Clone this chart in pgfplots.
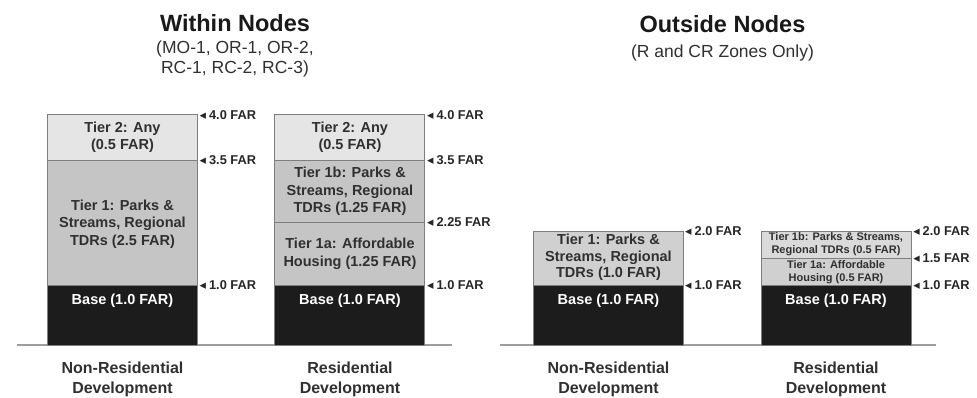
\documentclass[border=0pt]{standalone}
\usepackage{fontspec}
\setmainfont{Liberation Sans}
\newfontfamily\symfont{DejaVu Sans}
\usepackage{pgfplots}
\pgfplotsset{compat=1.18}

\definecolor{baseblk}{HTML}{1C1C1C}
\definecolor{tierone}{HTML}{C5C5C5}
\definecolor{tieronelt}{HTML}{D0D0D0}
\definecolor{tieronebr}{HTML}{DADADA}
\definecolor{tiertwo}{HTML}{E5E5E5}
\definecolor{edge}{HTML}{7E7E7E}
\definecolor{txt}{HTML}{303030}

% bar segment heights are kept as drawn (schematic, px above baseline);
% the FAR values are the labels
\pgfplotsset{
  farpanel/.style={
    x=227.5pt, y=1pt,
    ybar stacked, bar width=150pt,
    ymin=0, ymax=240,
    axis x line=bottom, axis y line=none,
    x axis line style={-, draw=black!38, line width=1.4pt},
    xtick={0,1}, ytick=\empty, major tick length=0pt,
    xticklabels={{Non-Residential\\Development},{Residential\\Development}},
    xticklabel style={align=center, anchor=north, inner sep=0pt, yshift=-17pt,
      font=\bfseries\fontsize{16}{20}\selectfont, text=txt},
    clip=false,
    every axis plot/.append style={draw=edge, line width=1pt},
  },
}
\tikzset{
  seglbl/.style={align=center, text=txt, font=\bfseries\fontsize{14.5}{17.5}\selectfont},
  segsm/.style={align=center, text=txt, font=\bfseries\fontsize{11}{13}\selectfont},
  baselbl/.style={text=white, font=\bfseries\fontsize{14.5}{17.5}\selectfont},
  farlbl/.style={anchor=west, inner sep=0pt, xshift=2pt, text=black!85,
    font=\bfseries\fontsize{12.8}{14}\selectfont},
}
\newcommand{\far}[1]{{\symfont ◂}\hspace{3pt}#1 FAR}

\begin{document}
\begin{tikzpicture}
\path[use as bounding box] (0,0) rectangle (977pt,-398pt);

% ---- Within Nodes ----
\begin{axis}[farpanel, at={(17pt,-345pt)}, anchor=south west,
    xmin=-0.4637, xmax=1.4484]
  \addplot[fill=baseblk] coordinates {(0,60) (1,60)};
  \addplot[fill=tierone] coordinates {(0,125) (1,63)};
  \addplot[fill=tierone] coordinates {(0,0) (1,62)};
  \addplot[fill=tiertwo] coordinates {(0,45) (1,45)};

  \coordinate (wt) at (axis cs:0.4945,321.5);
  \coordinate (ws) at (axis cs:0.4945,286);
  \coordinate (w0a) at (axis cs:0,44);
  \coordinate (w0b) at (axis cs:0,121);
  \coordinate (w0c) at (axis cs:0,207.5);
  \coordinate (w1a) at (axis cs:1,44);
  \coordinate (w1b) at (axis cs:1,91);
  \coordinate (w1c) at (axis cs:1,153.5);
  \coordinate (w1d) at (axis cs:1,207.5);
  \coordinate (wf1) at (axis cs:0.3297,230);
  \coordinate (wf2) at (axis cs:0.3297,185);
  \coordinate (wf3) at (axis cs:0.3297,60);
  \coordinate (wf4) at (axis cs:1.3297,230);
  \coordinate (wf5) at (axis cs:1.3297,185);
  \coordinate (wf6) at (axis cs:1.3297,123);
  \coordinate (wf7) at (axis cs:1.3297,60);
\end{axis}

% ---- Outside Nodes ----
\begin{axis}[farpanel, at={(500pt,-345pt)}, anchor=south west,
    xmin=-0.4769, xmax=1.4396]
  \addplot[fill=baseblk] coordinates {(0,60) (1,60)};
  \addplot[fill=tieronelt] coordinates {(0,54) (1,27)};
  \addplot[fill=tieronebr] coordinates {(0,0) (1,27)};

  \coordinate (ot) at (axis cs:0.501,321);
  \coordinate (os) at (axis cs:0.501,292.5);
  \coordinate (o0a) at (axis cs:0,44);
  \coordinate (o0b) at (axis cs:0,87.5);
  \coordinate (o1a) at (axis cs:1,44);
  \coordinate (o1b) at (axis cs:1,73);
  \coordinate (o1c) at (axis cs:1,100.5);
  \coordinate (of1) at (axis cs:0.3275,114);
  \coordinate (of2) at (axis cs:0.3275,60);
  \coordinate (of3) at (axis cs:1.33,114);
  \coordinate (of4) at (axis cs:1.33,87);
  \coordinate (of5) at (axis cs:1.33,60);
\end{axis}

% titles and labels
\node[font=\bfseries\fontsize{23.5}{26}\selectfont, text=black!90] at (wt) {Within Nodes};
\node[align=center, text=txt, font=\fontsize{17.5}{20}\selectfont] at (ws)
  {(MO-1, OR-1, OR-2,\\RC-1, RC-2, RC-3)};
\node[baselbl] at (w0a) {Base (1.0 FAR)};
\node[seglbl] at (w0b) {Tier 1: Parks \&\\Streams, Regional\\TDRs (2.5 FAR)};
\node[seglbl] at (w0c) {Tier 2: Any\\(0.5 FAR)};
\node[baselbl] at (w1a) {Base (1.0 FAR)};
\node[seglbl] at (w1b) {Tier 1a: Affordable\\Housing (1.25 FAR)};
\node[seglbl] at (w1c) {Tier 1b: Parks \&\\Streams, Regional\\TDRs (1.25 FAR)};
\node[seglbl] at (w1d) {Tier 2: Any\\(0.5 FAR)};
\node[farlbl] at (wf1) {\far{4.0}};
\node[farlbl] at (wf2) {\far{3.5}};
\node[farlbl] at (wf3) {\far{1.0}};
\node[farlbl] at (wf4) {\far{4.0}};
\node[farlbl] at (wf5) {\far{3.5}};
\node[farlbl] at (wf6) {\far{2.25}};
\node[farlbl] at (wf7) {\far{1.0}};

\node[font=\bfseries\fontsize{23.5}{26}\selectfont, text=black!90] at (ot) {Outside Nodes};
\node[text=txt, font=\fontsize{17.5}{20}\selectfont] at (os) {(R and CR Zones Only)};
\node[baselbl] at (o0a) {Base (1.0 FAR)};
\node[seglbl, font=\bfseries\fontsize{14.5}{16.5}\selectfont] at (o0b)
  {Tier 1: Parks \&\\Streams, Regional\\TDRs (1.0 FAR)};
\node[baselbl] at (o1a) {Base (1.0 FAR)};
\node[segsm] at (o1b) {Tier 1a: Affordable\\Housing (0.5 FAR)};
\node[segsm] at (o1c) {Tier 1b: Parks \& Streams,\\Regional TDRs (0.5 FAR)};
\node[farlbl] at (of1) {\far{2.0}};
\node[farlbl] at (of2) {\far{1.0}};
\node[farlbl] at (of3) {\far{2.0}};
\node[farlbl] at (of4) {\far{1.5}};
\node[farlbl] at (of5) {\far{1.0}};
\end{tikzpicture}
\end{document}
